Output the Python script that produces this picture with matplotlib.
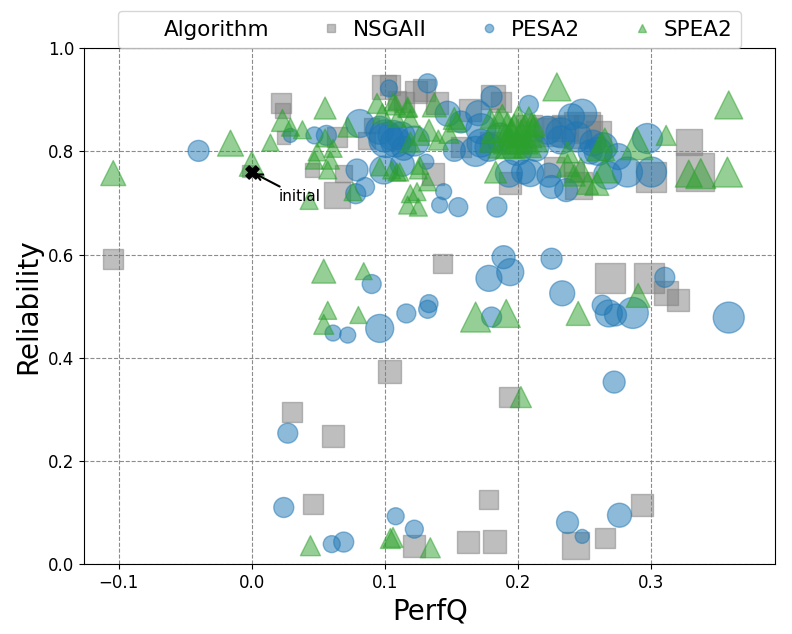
import numpy as np
import matplotlib
matplotlib.use('Agg')
import matplotlib.pyplot as plt
from matplotlib.lines import Line2D

# ===================== 数据 (PerfQ, Reliability, 点大小) =====================
nsga_x = [-0.104, 0.103, 0.030, 0.061, 0.143, 0.269, 0.298, 0.311, 0.320, 0.193,
          0.046, 0.122, 0.162, 0.182, 0.178, 0.243, 0.265, 0.293,
          -0.003, 0.022, 0.023, 0.024, 0.064, 0.045, 0.064, 0.069, 0.099, 0.123,
          0.109, 0.104, 0.114, 0.090, 0.086, 0.181, 0.187, 0.164, 0.139, 0.129,
          0.248, 0.260, 0.252, 0.227, 0.194, 0.245, 0.136, 0.157, 0.227, 0.179,
          0.242, 0.300, 0.328, 0.333, 0.208, 0.222, 0.235]
nsga_y = [0.591, 0.374, 0.295, 0.248, 0.583, 0.554, 0.554, 0.525, 0.512, 0.324,
          0.116, 0.036, 0.043, 0.045, 0.126, 0.037, 0.050, 0.114,
          0.762, 0.893, 0.880, 0.826, 0.828, 0.764, 0.715, 0.757, 0.925, 0.915,
          0.899, 0.928, 0.896, 0.851, 0.822, 0.906, 0.896, 0.880, 0.893, 0.919,
          0.841, 0.835, 0.844, 0.847, 0.738, 0.734, 0.757, 0.809, 0.770, 0.818,
          0.760, 0.751, 0.818, 0.760, 0.845, 0.838, 0.845]
nsga_size = [20, 23, 20, 22, 19, 30, 30, 24, 22, 20,
             20, 22, 22, 23, 19, 27, 20, 22,
             12, 20, 15, 13, 20, 14, 26, 17, 24, 22,
             18, 20, 20, 15, 17, 24, 20, 22, 22, 22,
             36, 25, 28, 22, 22, 27, 22, 20, 20, 20,
             20, 30, 26, 38, 26, 28, 26]

pesa_x = [-0.040, 0.027, 0.024, 0.060, 0.069, 0.108, 0.122, 0.237, 0.248, 0.276,
          0.189, 0.178, 0.194, 0.225, 0.233, 0.263, 0.268, 0.273, 0.286, 0.310,
          0.358, 0.133, 0.132, 0.180, 0.272, 0.090, 0.061, 0.072, 0.096, 0.116,
          0.029, 0.047, 0.056, 0.081, 0.079, 0.085, 0.078, 0.103, 0.101, 0.096,
          0.114, 0.099, 0.106, 0.248, 0.240, 0.225, 0.236, 0.223, 0.267, 0.209,
          0.208, 0.193, 0.184, 0.155, 0.141, 0.144, 0.132, 0.152, 0.131, 0.172,
          0.170, 0.180, 0.147, 0.157, 0.222, 0.232, 0.244, 0.256, 0.199, 0.172,
          0.204, 0.264, 0.297, 0.282, 0.300, 0.254, 0.122, 0.112, 0.113, 0.213,
          0.186, 0.100, 0.108, 0.168, 0.178, 0.232, 0.260, 0.275]
pesa_y = [0.801, 0.254, 0.110, 0.039, 0.043, 0.093, 0.068, 0.081, 0.054, 0.095,
          0.595, 0.554, 0.566, 0.592, 0.525, 0.502, 0.486, 0.483, 0.487, 0.556,
          0.478, 0.505, 0.494, 0.479, 0.353, 0.543, 0.448, 0.444, 0.457, 0.486,
          0.831, 0.831, 0.831, 0.854, 0.764, 0.731, 0.718, 0.922, 0.822, 0.841,
          0.806, 0.764, 0.831, 0.873, 0.867, 0.731, 0.725, 0.754, 0.754, 0.758,
          0.890, 0.757, 0.692, 0.692, 0.696, 0.722, 0.932, 0.802, 0.780, 0.816,
          0.874, 0.906, 0.873, 0.857, 0.841, 0.822, 0.828, 0.816, 0.802, 0.844,
          0.760, 0.809, 0.825, 0.760, 0.760, 0.799, 0.820, 0.830, 0.775, 0.806,
          0.828, 0.830, 0.818, 0.800, 0.808, 0.836, 0.800, 0.790]
pesa_size = [21, 20, 20, 17, 20, 17, 18, 22, 14, 24,
             23, 26, 27, 21, 25, 20, 27, 22, 31, 20,
             31, 18, 18, 20, 22, 19, 16, 16, 28, 19,
             14, 17, 20, 28, 22, 19, 20, 17, 35, 28,
             24, 28, 30, 29, 26, 23, 23, 24, 28, 27,
             19, 27, 20, 19, 16, 16, 19, 22, 15, 28,
             25, 21, 25, 22, 28, 28, 30, 26, 30, 30,
             24, 28, 30, 30, 30, 24, 30, 28, 24, 26,
             28, 32, 30, 30, 28, 30, 28, 26]

spea_x = [-0.104, -0.016, 0.000, 0.014, 0.044, 0.104, 0.106, 0.134, 0.290, 0.168,
          0.191, 0.245, 0.202, 0.054, 0.084, 0.057, 0.054, 0.080, 0.229, 0.358,
          0.311, 0.328, 0.337, 0.357,
          0.023, 0.029, 0.038, 0.055, 0.055, 0.049, 0.061, 0.047, 0.059, 0.057,
          0.043, 0.072, 0.076, 0.094, 0.098, 0.108, 0.117, 0.119, 0.096, 0.105,
          0.111, 0.125, 0.119, 0.125, 0.117, 0.137, 0.133, 0.152, 0.148, 0.179,
          0.188, 0.192, 0.197, 0.202, 0.208, 0.212, 0.207, 0.194, 0.178, 0.183,
          0.237, 0.247, 0.242, 0.262, 0.265, 0.259, 0.265, 0.289, 0.106, 0.117,
          0.109, 0.119, 0.154, 0.126, 0.140, 0.109, 0.126, 0.132, 0.124, 0.210,
          0.237, 0.252, 0.185, 0.195, 0.205, 0.200, 0.210, 0.190]
spea_y = [0.758, 0.816, 0.776, 0.817, 0.036, 0.050, 0.052, 0.032, 0.521, 0.479,
          0.486, 0.486, 0.324, 0.568, 0.568, 0.492, 0.465, 0.483, 0.925, 0.890,
          0.831, 0.757, 0.757, 0.760,
          0.860, 0.847, 0.842, 0.884, 0.826, 0.799, 0.806, 0.783, 0.783, 0.764,
          0.705, 0.847, 0.722, 0.893, 0.873, 0.890, 0.886, 0.818, 0.770, 0.764,
          0.760, 0.764, 0.718, 0.692, 0.696, 0.890, 0.841, 0.864, 0.835, 0.864,
          0.870, 0.847, 0.841, 0.828, 0.867, 0.851, 0.815, 0.815, 0.818, 0.760,
          0.799, 0.764, 0.754, 0.809, 0.764, 0.738, 0.822, 0.815, 0.896, 0.883,
          0.864, 0.864, 0.857, 0.831, 0.822, 0.760, 0.773, 0.741, 0.722, 0.851,
          0.773, 0.738, 0.850, 0.830, 0.840, 0.860, 0.830, 0.820]
spea_size = [25, 26, 25, 17, 20, 20, 20, 20, 24, 30,
             28, 24, 21, 24, 17, 18, 20, 17, 28, 28,
             20, 27, 30, 30,
             22, 18, 18, 22, 18, 18, 18, 18, 18, 18,
             18, 20, 18, 20, 20, 20, 20, 20, 18, 18,
             18, 18, 18, 18, 18, 24, 22, 22, 20, 20,
             22, 30, 32, 34, 20, 22, 28, 30, 20, 22,
             22, 24, 22, 28, 26, 24, 24, 32, 18, 18,
             18, 18, 20, 20, 20, 18, 18, 18, 18, 24,
             22, 22, 34, 36, 34, 30, 32, 34]

initial_x, initial_y = 0.0, 0.760
algorithms = ['NSGAII', 'PESA2', 'SPEA2']


def to_s(size_px):
    # 像素尺寸 -> scatter 的 s (points^2)
    return (np.array(size_px) * 72 / 100) ** 2


fig = plt.figure(figsize=(7.92, 6.34), dpi=100)
ax = fig.add_axes([0.106, 0.110, 0.873, 0.814])

series = [
    (nsga_x, nsga_y, nsga_size, 's', '#7f7f7f'),
    (pesa_x, pesa_y, pesa_size, 'o', '#1f77b4'),
    (spea_x, spea_y, spea_size, '^', '#2ca02c'),
]
for xs, ys, sz, mk, col in series:
    ax.scatter(xs, ys, s=to_s(sz), marker=mk, color=col, alpha=0.5,
               linewidths=1.0, zorder=3)

# 初始点
ax.scatter([initial_x], [initial_y], marker='X', s=90, color='black', zorder=5)
ax.annotate('initial', xy=(initial_x, initial_y), xytext=(0.020, 0.712),
            fontsize=11, va='center', ha='left',
            arrowprops=dict(arrowstyle='->', color='black', lw=1.5,
                            shrinkA=0, shrinkB=2), zorder=6)

ax.set_xlim(-0.126, 0.393)
ax.set_ylim(0, 1.0)
ax.set_xticks([-0.1, 0.0, 0.1, 0.2, 0.3])
ax.set_yticks([0.0, 0.2, 0.4, 0.6, 0.8, 1.0])
ax.tick_params(labelsize=12)
ax.grid(True, linestyle='--', color='gray', linewidth=0.8, alpha=0.9, zorder=0)
ax.set_axisbelow(True)
ax.set_xlabel('PerfQ', fontsize=20)
ax.set_ylabel('Reliability', fontsize=20)

# 图例
handles = [Line2D([], [], linestyle='none', marker=None)]
labels = ['Algorithm']
for (xs, ys, sz, mk, col), name in zip(series, algorithms):
    handles.append(Line2D([], [], linestyle='none', marker=mk, color=col,
                          alpha=0.5, markersize=6))
    labels.append(name)
ax.legend(handles, labels, loc='lower center', bbox_to_anchor=(0.5, 1.0),
          ncol=4, fontsize=15.5, frameon=True, borderaxespad=0.0,
          handletextpad=0.3, columnspacing=2.2, borderpad=0.4,
          handlelength=1.4)

plt.savefig('out.png', dpi=100)
